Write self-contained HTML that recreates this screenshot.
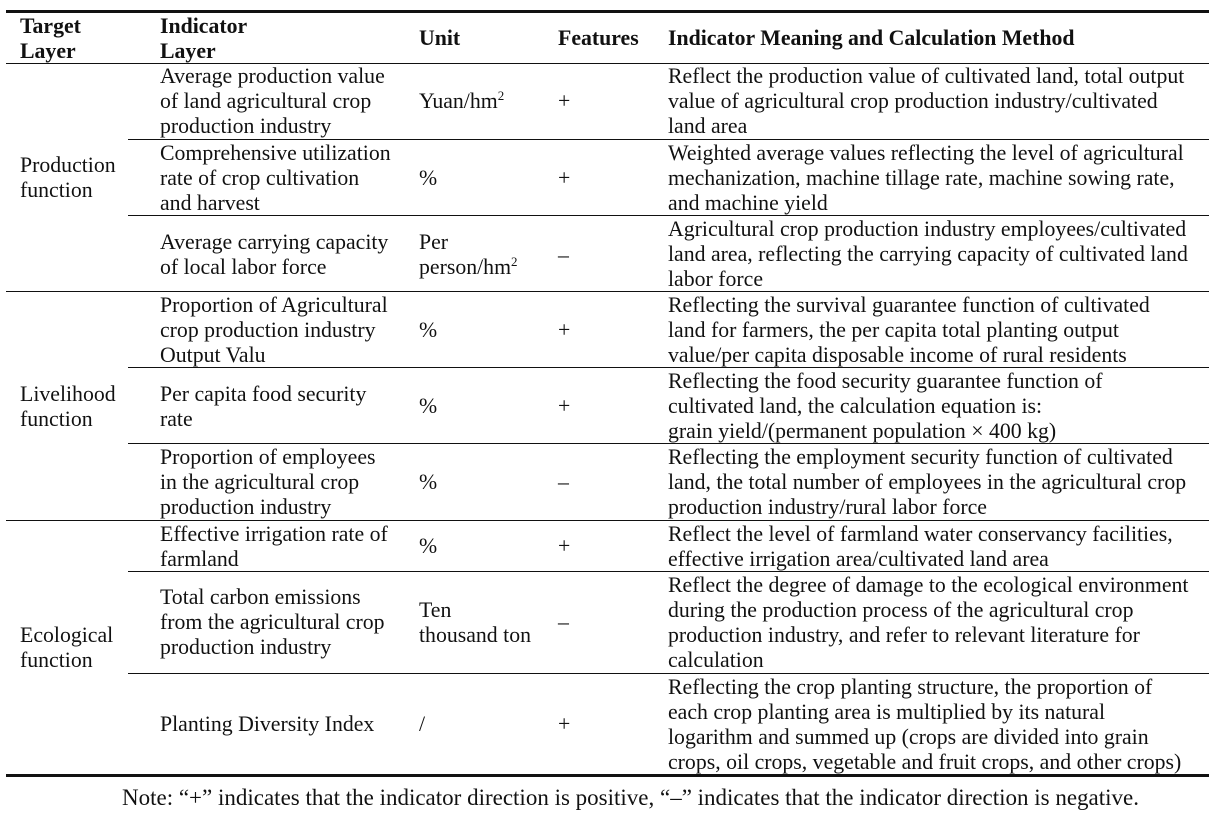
<!DOCTYPE html>
<html><head><meta charset="utf-8"><style>
body{margin:0;width:1209px;height:815px;background:#fff;position:relative;overflow:hidden;font-family:"Liberation Serif",serif;font-size:21.8px;color:#111;}
.t{position:absolute;line-height:25px;white-space:nowrap;}
.b{font-weight:bold;}
.l{position:absolute;background:#111;height:1.3px;right:0;}
sup{font-size:13px;line-height:0;vertical-align:8px;}
</style></head><body>
<div class="l" style="left:6px;top:10px;height:3px"></div>
<div class="l" style="left:6px;top:63px"></div>
<div class="l" style="left:128px;top:139px"></div>
<div class="l" style="left:128px;top:215px"></div>
<div class="l" style="left:6px;top:291px"></div>
<div class="l" style="left:128px;top:367px"></div>
<div class="l" style="left:128px;top:443px"></div>
<div class="l" style="left:6px;top:520px"></div>
<div class="l" style="left:128px;top:571px"></div>
<div class="l" style="left:128px;top:673px"></div>
<div class="l" style="left:6px;top:774px;height:3px"></div>

<div class="t b" style="left:20px;top:14px">Target<br>Layer</div>
<div class="t b" style="left:160px;top:14px">Indicator<br>Layer</div>
<div class="t b" style="left:419px;top:26px">Unit</div>
<div class="t b" style="left:558px;top:26px">Features</div>
<div class="t b" style="left:668px;top:26px">Indicator Meaning and Calculation Method</div>

<div class="t" style="left:20px;top:153px">Production<br>function</div>
<div class="t" style="left:160px;top:64px">Average production value<br>of land agricultural crop<br>production industry</div>
<div class="t" style="left:419px;top:89px">Yuan/hm<sup>2</sup></div>
<div class="t" style="left:558px;top:89px">+</div>
<div class="t" style="left:668px;top:64px">Reflect the production value of cultivated land, total output<br>value of agricultural crop production industry/cultivated<br>land area</div>

<div class="t" style="left:160px;top:141px">Comprehensive utilization<br>rate of crop cultivation<br>and harvest</div>
<div class="t" style="left:419px;top:166px">%</div>
<div class="t" style="left:558px;top:166px">+</div>
<div class="t" style="left:668px;top:141px">Weighted average values reflecting the level of agricultural<br>mechanization, machine tillage rate, machine sowing rate,<br>and machine yield</div>

<div class="t" style="left:160px;top:230px">Average carrying capacity<br>of local labor force</div>
<div class="t" style="left:419px;top:230px">Per<br>person/hm<sup>2</sup></div>
<div class="t" style="left:558px;top:243px">–</div>
<div class="t" style="left:668px;top:217px">Agricultural crop production industry employees/cultivated<br>land area, reflecting the carrying capacity of cultivated land<br>labor force</div>

<div class="t" style="left:20px;top:382px">Livelihood<br>function</div>
<div class="t" style="left:160px;top:293px">Proportion of Agricultural<br>crop production industry<br>Output Valu</div>
<div class="t" style="left:419px;top:318px">%</div>
<div class="t" style="left:558px;top:318px">+</div>
<div class="t" style="left:668px;top:293px">Reflecting the survival guarantee function of cultivated<br>land for farmers, the per capita total planting output<br>value/per capita disposable income of rural residents</div>

<div class="t" style="left:160px;top:382px">Per capita food security<br>rate</div>
<div class="t" style="left:419px;top:394px">%</div>
<div class="t" style="left:558px;top:394px">+</div>
<div class="t" style="left:668px;top:369px">Reflecting the food security guarantee function of<br>cultivated land, the calculation equation is:<br>grain yield/(permanent population × 400 kg)</div>

<div class="t" style="left:160px;top:445px">Proportion of employees<br>in the agricultural crop<br>production industry</div>
<div class="t" style="left:419px;top:470px">%</div>
<div class="t" style="left:558px;top:470px">–</div>
<div class="t" style="left:668px;top:445px">Reflecting the employment security function of cultivated<br>land, the total number of employees in the agricultural crop<br>production industry/rural labor force</div>

<div class="t" style="left:20px;top:623px">Ecological<br>function</div>
<div class="t" style="left:160px;top:522px">Effective irrigation rate of<br>farmland</div>
<div class="t" style="left:419px;top:534px">%</div>
<div class="t" style="left:558px;top:534px">+</div>
<div class="t" style="left:668px;top:522px">Reflect the level of farmland water conservancy facilities,<br>effective irrigation area/cultivated land area</div>

<div class="t" style="left:160px;top:585px">Total carbon emissions<br>from the agricultural crop<br>production industry</div>
<div class="t" style="left:419px;top:598px">Ten<br>thousand ton</div>
<div class="t" style="left:558px;top:610px">–</div>
<div class="t" style="left:668px;top:573px">Reflect the degree of damage to the ecological environment<br>during the production process of the agricultural crop<br>production industry, and refer to relevant literature for<br>calculation</div>

<div class="t" style="left:160px;top:712px">Planting Diversity Index</div>
<div class="t" style="left:419px;top:712px">/</div>
<div class="t" style="left:558px;top:712px">+</div>
<div class="t" style="left:668px;top:675px">Reflecting the crop planting structure, the proportion of<br>each crop planting area is multiplied by its natural<br>logarithm and summed up (crops are divided into grain<br>crops, oil crops, vegetable and fruit crops, and other crops)</div>

<div class="t" style="left:122px;top:785px;font-size:23px">Note: “+” indicates that the indicator direction is positive, “–” indicates that the indicator direction is negative.</div>
</body></html>
